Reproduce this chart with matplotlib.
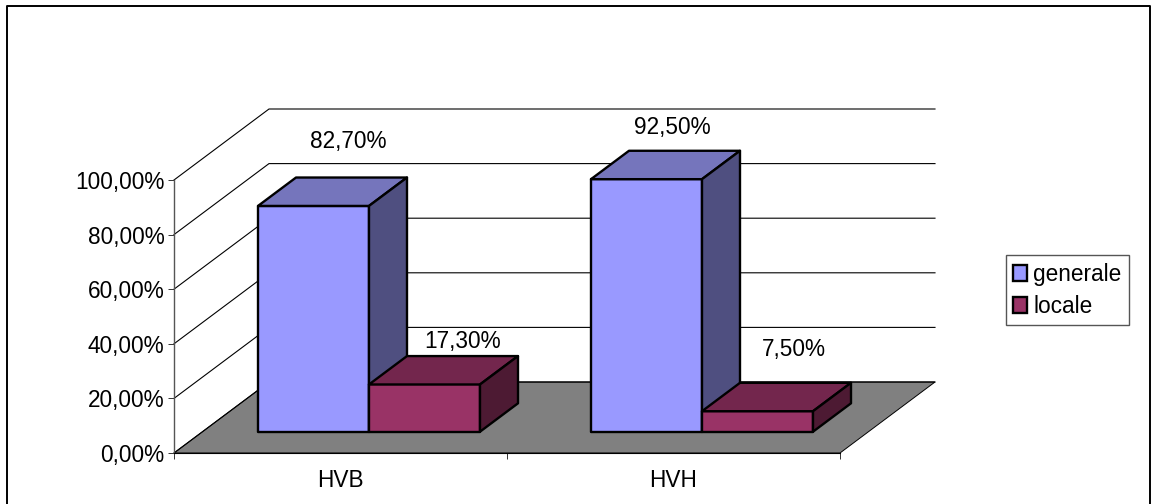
import matplotlib
matplotlib.use("Agg")
import matplotlib.pyplot as plt
from matplotlib.lines import Line2D
from matplotlib.patches import Patch, Polygon

W, H = 1151, 504

categories = ["HVB", "HVH"]
series = ["generale", "locale"]
generale = [82.7, 92.5]
locale = [17.3, 7.5]
value_labels = [["82,70%", "92,50%"], ["17,30%", "7,50%"]]
y_ticks = [0, 20, 40, 60, 80, 100]
y_tick_labels = ["0,00%", "20,00%", "40,00%", "60,00%", "80,00%", "100,00%"]

# front, top and side shades per series
shades = [
    ("#9999FF", "#7575BC", "#4F4F80"),
    ("#993366", "#73264D", "#4D1A33"),
]
# label shift in pixels from the middle of each bar's front top edge
label_shift = [[(35, 64), (26, 52)], [(38, 43), (36, 62)]]

BAR_W = 1 / 3
DEPTH_X = 95 / 333   # wall depth in category units
DEPTH_Y = 71 / 2.73  # wall depth in percent units
Z0, Z1 = 0.3, 0.7    # bars sit in the middle of the floor depth


def proj(x, v, z=0.0):
    return x + z * DEPTH_X, v + z * DEPTH_Y


plt.rcParams["font.family"] = ["Liberation Sans", "DejaVu Sans"]
plt.rcParams["font.size"] = 16.3

fig = plt.figure(figsize=(W / 100, H / 100), dpi=100)
ax = fig.add_axes([174 / W, 1 - 453 / H, 666 / W, 273 / H])
ax.set_xlim(0, 2)
ax.set_ylim(0, 100)
ax.patch.set_visible(False)
for side in ("top", "right", "bottom", "left"):
    ax.spines[side].set_visible(False)

# outer chart border, the bottom edge falls off the canvas
fig.add_artist(Line2D([7 / W, 7 / W, 1149.5 / W, 1149.5 / W], [0, 1 - 5.5 / H, 1 - 5.5 / H, 0],
                      color="black", lw=1.4, transform=fig.transFigure))

# floor
floor = [proj(0, 0), proj(2, 0), proj(2, 0, 1), proj(0, 0, 1)]
ax.add_patch(Polygon(floor, closed=True, facecolor="#808080", edgecolor="black", lw=0.7,
                     zorder=1, clip_on=False))

# back wall gridlines and the side wall diagonals
for t in y_ticks:
    xs, ys = zip(proj(0, t), proj(0, t, 1), proj(2, t, 1))
    ax.plot(xs, ys, color="black", lw=0.8, zorder=1.5, clip_on=False, solid_joinstyle="miter")

# axes lines by hand so they stay on the front plane
ax.plot([0, 0], [0, 100], color="#555555", lw=1.0, zorder=2, clip_on=False)
ax.plot([0, 2], [0, 0], color="black", lw=0.8, zorder=2, clip_on=False)
ax.set_xticks([0, 1, 2], labels=[])
ax.set_xticks([0.5, 1.5], labels=categories, minor=True)
ax.tick_params(axis="x", which="major", length=4, width=0.7, color="#333333")
ax.tick_params(axis="x", which="minor", length=0, pad=11.5)
ax.set_yticks(y_ticks, labels=y_tick_labels)
ax.tick_params(axis="y", length=4, width=0.7, color="#333333", pad=3)


def draw_bar(x0, value, colors, z):
    x1 = x0 + BAR_W
    front = [proj(x0, 0, Z0), proj(x1, 0, Z0), proj(x1, value, Z0), proj(x0, value, Z0)]
    top = [proj(x0, value, Z0), proj(x1, value, Z0), proj(x1, value, Z1), proj(x0, value, Z1)]
    side = [proj(x1, 0, Z0), proj(x1, 0, Z1), proj(x1, value, Z1), proj(x1, value, Z0)]
    for pts, color in zip((front, top, side), colors):
        ax.add_patch(Polygon(pts, closed=True, facecolor=color, edgecolor="black",
                             lw=1.7, joinstyle="round", zorder=z, clip_on=False))


for g in range(len(categories)):
    for s, values in enumerate((generale, locale)):
        x0 = g + 0.5 - BAR_W + s * BAR_W
        draw_bar(x0, values[g], shades[s], 3 + g + s * 0.1)
        ax.annotate(value_labels[s][g], xy=proj(x0 + BAR_W / 2, values[g], Z0),
                    xytext=label_shift[s][g], textcoords="offset pixels",
                    ha="center", va="center", zorder=6, annotation_clip=False)

handles = [Patch(facecolor=shades[i][0], edgecolor="black", lw=1.7, label=series[i]) for i in range(2)]
fig.legend(handles=handles, loc="upper left", bbox_to_anchor=(1005.5 / W, 1 - 255 / H),
           bbox_transform=fig.transFigure, borderaxespad=0, fancybox=False, framealpha=1,
           edgecolor="#555555", handlelength=0.62, handleheight=0.7, handletextpad=0.25,
           labelspacing=0.38, borderpad=0.35)

fig.savefig("out.png", dpi=100)
plt.close(fig)
